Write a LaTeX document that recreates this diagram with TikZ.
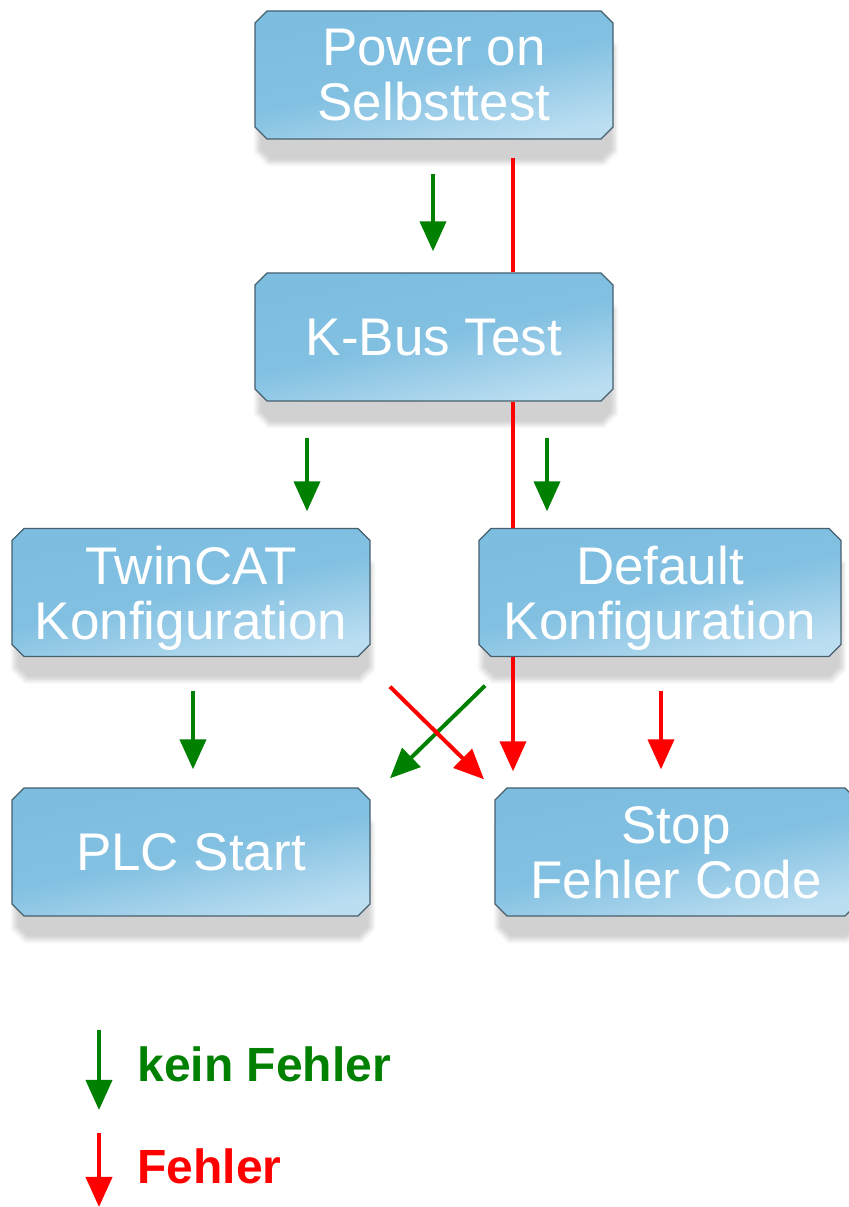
\documentclass[tikz,border=0pt]{standalone}
\usepackage{fontspec}
\setmainfont{Liberation Sans}
\usetikzlibrary{positioning,arrows.meta,shapes.misc,shadows.blur}

\definecolor{boxtop}{RGB}{124,189,224}
\definecolor{boxbot}{RGB}{188,222,241}
\definecolor{boxrim}{RGB}{70,96,110}
\definecolor{okgreen}{RGB}{0,128,0}
\definecolor{errred}{RGB}{255,0,0}

\begin{document}
\begin{tikzpicture}[x=0.5pt,y=0.5pt,
  stepbox/.style={chamfered rectangle,chamfered rectangle xsep=3pt,chamfered rectangle ysep=3pt,draw=boxrim,line width=0.7pt,top color=boxtop,bottom color=boxbot,middle color=boxtop!90!boxbot,shading angle=12,minimum width=179pt,minimum height=64pt,inner sep=0pt,align=center,text=white,text depth=0pt,font=\fontsize{26.5}{27.5}\selectfont,blur shadow={shadow xshift=1pt,shadow yshift=-12pt,shadow blur steps=6,shadow opacity=18}},
  okline/.style={draw=okgreen,line width=2pt,-{Triangle[length=15pt,width=13pt]}},
  errline/.style={draw=errred,line width=2pt},
  errarrow/.style={errline,-{Triangle[length=15pt,width=13pt]}},
  keytext/.style={anchor=base west,inner sep=0pt,font=\fontsize{24}{26}\selectfont\bfseries}]

\useasboundingbox (0,0) rectangle (848,1207);

% boot steps
\node[stepbox] (pwr) at (434,1132) {Power on\\Selbsttest};
\node[stepbox] (kbus) at (434,870) {K-Bus Test};
\node[stepbox] (twin) at (191,614.5) {TwinCAT\\Konfiguration};
\node[stepbox,minimum width=181pt] (dflt) at (660,614.5) {Default\\Konfiguration};
\node[stepbox] (plc) at (191,355) {PLC Start};
\node[stepbox,minimum width=181pt] (stop) at (676,355) {Stop\\Fehler Code};

% no error
\draw[okline] ([shift={(-1,-34)}]pwr.south) -- ([shift={(-1,21)}]kbus.north);
\draw[okline] ([shift={(-127,-36)}]kbus.south) -- ([shift={(116,16.5)}]twin.north);
\draw[okline] ([shift={(113,-36)}]kbus.south) -- ([shift={(-113,16.5)}]dflt.north);
\draw[okline] ([shift={(2,-33.5)}]twin.south) -- ([shift={(2,18)}]plc.north);
\draw[okline] ([shift={(-175,-28.5)}]dflt.south) -- ([shift={(199,9)}]plc.north);

% error
\draw[errline] ([shift={(79,-18)}]pwr.south) -- ([shift={(79,0)}]kbus.north);
\draw[errline] ([shift={(79,0)}]kbus.south) -- ([shift={(-147,0)}]dflt.north);
\draw[errarrow] ([shift={(-147,0)}]dflt.south) -- ([shift={(-163,16)}]stop.north);
\draw[errarrow] ([shift={(199,-29.5)}]twin.south) -- ([shift={(-192,8)}]stop.north);
\draw[errarrow] ([shift={(1,-33.5)}]dflt.south) -- ([shift={(-15,18)}]stop.north);

% key
\node[keytext,text=okgreen] (okkey) at (137,125) {kein Fehler};
\node[keytext,text=errred] (errkey) at (137,24) {Fehler};
\draw[okline] ([shift={(-38,52)}]okkey.base west) -- ([shift={(-38,-28)}]okkey.base west);
\draw[errarrow] ([shift={(-38,50)}]errkey.base west) -- ([shift={(-38,-24)}]errkey.base west);

\end{tikzpicture}
\end{document}
